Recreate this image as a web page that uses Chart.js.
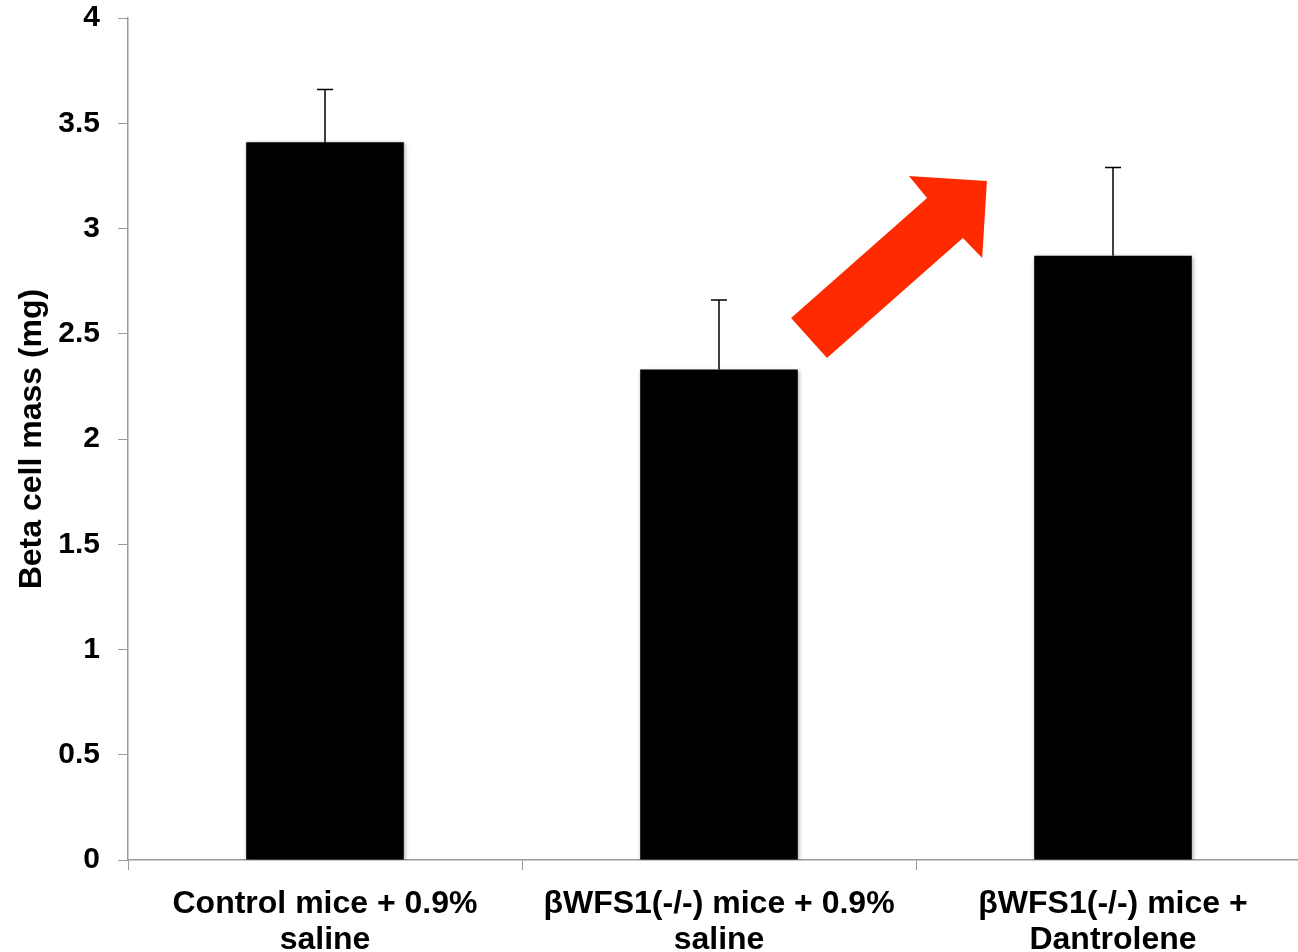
<!DOCTYPE html>
<html lang="en">
  <head>
    <meta charset="UTF-8" />
    <title>Beta cell mass</title>
    <script src="https://cdn.jsdelivr.net/npm/chart.js"></script>
    <style>
      html, body { margin: 0; padding: 0; background: #fff; overflow: hidden; }
      #wrap { width: 1310px; height: 952px; }
    </style>
  </head>
  <body>
    <div id="wrap"><canvas id="massChart"></canvas></div>
    <script>
      // data
      const groups = [
        ["Control mice + 0.9%", "saline"],
        ["\u03B2WFS1(-/-) mice + 0.9%", "saline"],
        ["\u03B2WFS1(-/-) mice +", "Dantrolene"],
      ];
      const betaMass = [3.41, 2.33, 2.87];
      const errUp = [0.25, 0.33, 0.42];
      const yTicks = [0, 0.5, 1, 1.5, 2, 2.5, 3, 3.5, 4];

      // red arrow outline, in (category index, value) units
      const arrowX = [1.183, 1.274, 1.619, 1.668, 1.680, 1.482, 1.528];
      const arrowY = [2.575, 2.385, 2.955, 2.860, 3.226, 3.249, 3.145];

      const axisGrey = "#9a9a9a";
      const fontFam = "'Liberation Sans', Arial, Helvetica, sans-serif";

      const barShadow = {
        id: "barShadow",
        beforeDatasetsDraw(chart) {
          const ctx = chart.ctx;
          ctx.save();
          ctx.shadowColor = "rgba(0,0,0,0.35)";
          ctx.shadowBlur = 4;
          ctx.shadowOffsetX = 1;
          ctx.shadowOffsetY = 1;
        },
        afterDatasetsDraw(chart) {
          chart.ctx.restore();
        },
      };

      const errorBars = {
        id: "errorBars",
        afterDatasetsDraw(chart) {
          const ctx = chart.ctx;
          const y = chart.scales.y;
          const meta = chart.getDatasetMeta(0);
          ctx.save();
          ctx.strokeStyle = "#000";
          ctx.lineWidth = 1.5;
          meta.data.forEach((bar, i) => {
            const top = y.getPixelForValue(betaMass[i] + errUp[i]);
            const base = y.getPixelForValue(betaMass[i]);
            ctx.beginPath();
            ctx.moveTo(bar.x, base);
            ctx.lineTo(bar.x, top);
            ctx.moveTo(bar.x - 8, top);
            ctx.lineTo(bar.x + 8, top);
            ctx.stroke();
          });
          ctx.restore();
        },
      };

      const redArrow = {
        id: "redArrow",
        afterDraw(chart) {
          const ctx = chart.ctx;
          const xs = chart.scales.x;
          const ys = chart.scales.y;
          const step = xs.getPixelForValue(1) - xs.getPixelForValue(0);
          const x0 = xs.getPixelForValue(0);
          ctx.save();
          ctx.fillStyle = "#ff2a00";
          ctx.beginPath();
          arrowX.forEach((v, i) => {
            const px = x0 + v * step;
            const py = ys.getPixelForValue(arrowY[i]);
            if (i === 0) ctx.moveTo(px, py);
            else ctx.lineTo(px, py);
          });
          ctx.closePath();
          ctx.fill();
          ctx.restore();
        },
      };

      new Chart(document.getElementById("massChart"), {
        type: "bar",
        data: {
          labels: groups,
          datasets: [
            {
              label: "Beta cell mass",
              data: betaMass,
              backgroundColor: "#000",
              borderWidth: 0,
              barPercentage: 0.4,
              categoryPercentage: 1.0,
            },
          ],
        },
        options: {
          responsive: true,
          maintainAspectRatio: false,
          animation: false,
          layout: { padding: { top: 18, right: 0, bottom: 0, left: 0 } },
          plugins: {
            legend: { display: false },
            tooltip: { enabled: false },
          },
          scales: {
            x: {
              offset: true,
              grid: {
                offset: true,
                drawOnChartArea: false,
                drawTicks: true,
                tickLength: 10,
                color: axisGrey,
              },
              border: { color: axisGrey, width: 1.5 },
              ticks: {
                color: "#000",
                padding: 17,
                maxRotation: 0,
                autoSkip: false,
                font: { family: fontFam, size: 32, weight: "bold", lineHeight: 1.1 },
              },
              afterFit(scale) {
                scale.height = 92;
                scale.paddingLeft = 0;
                scale.paddingRight = 0;
              },
            },
            y: {
              min: 0,
              max: 4,
              afterBuildTicks(scale) {
                scale.ticks = yTicks.map((v) => ({ value: v }));
              },
              grid: {
                drawOnChartArea: false,
                drawTicks: true,
                tickLength: 10,
                color: axisGrey,
              },
              border: { color: axisGrey, width: 1.5 },
              ticks: {
                color: "#000",
                padding: 18,
                callback: (v) => String(v),
                font: { family: fontFam, size: 30, weight: "bold" },
              },
              title: {
                display: true,
                text: "Beta cell mass (mg)",
                color: "#000",
                padding: { top: 13, bottom: 0 },
                font: { family: fontFam, size: 32, weight: "bold" },
              },
              afterFit(scale) {
                scale.width = 128;
                scale.paddingTop = 0;
                scale.paddingBottom = 0;
              },
            },
          },
        },
        plugins: [barShadow, errorBars, redArrow],
      });
    </script>
  </body>
</html>
